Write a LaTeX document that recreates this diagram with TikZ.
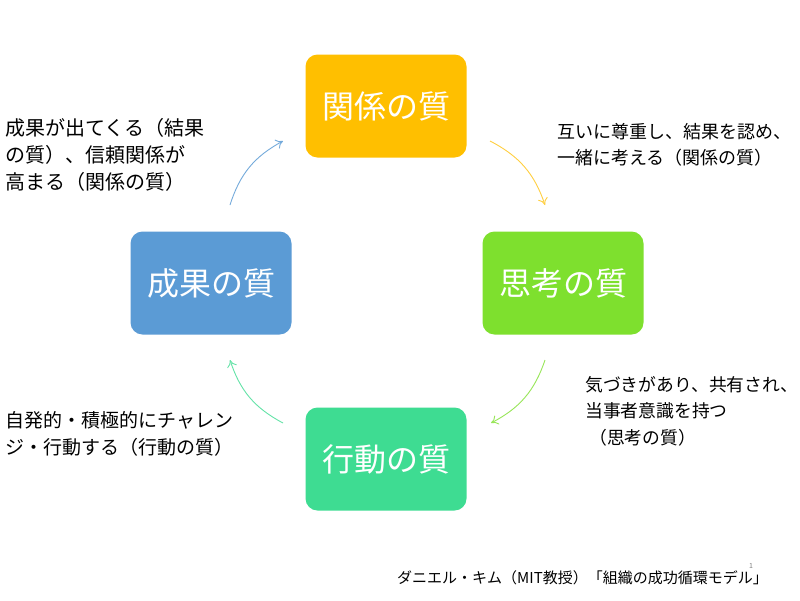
\documentclass[tikz,border=0pt]{standalone}
\usepackage{fontspec}
\setmainfont{Noto Sans CJK JP}
\usetikzlibrary{arrows.meta}
\definecolor{kankeicol}{HTML}{FFBF00}
\definecolor{shikoucol}{HTML}{7EE02E}
\definecolor{koudoucol}{HTML}{3EDC92}
\definecolor{seikacol}{HTML}{5B9BD5}
\begin{document}
\begin{tikzpicture}[x=1pt, y=-1pt,
    quality/.style={rounded corners=12pt, minimum width=161pt, minimum height=103pt,
      text=white, font=\fontsize{32}{38}\selectfont},
    cycle/.style={-{To[length=7pt,width=10pt]}, line width=0.9pt, bend left=22},
    note/.style={align=left, anchor=north west, inner sep=0pt,
      font=\fontsize{20}{27}\selectfont}]
        \useasboundingbox[fill=white] (0, 0) rectangle (800, 600);

        % the four qualities
        \node[quality, fill=kankeicol] (kankei) at (386, 106) {関係の質};
        \node[quality, fill=shikoucol] (shikou) at (563, 283) {思考の質};
        \node[quality, fill=koudoucol] (koudou) at (386, 459) {行動の質};
        \node[quality, fill=seikacol] (seika) at (211, 283) {成果の質};

        % arrow ends
        \coordinate (seikaout) at (230, 205);
        \coordinate (kankeiin) at (283, 141);
        \coordinate (kankeiout) at (490, 141);
        \coordinate (shikouin) at (545, 205);
        \coordinate (shikouout) at (545, 360);
        \coordinate (koudouin) at (491, 423);
        \coordinate (koudouout) at (283, 423);
        \coordinate (seikain) at (230, 360);

        \draw[cycle, seikacol!85] (seikaout) to (kankeiin);
        \draw[cycle, kankeicol!75] (kankeiout) to (shikouin);
        \draw[cycle, shikoucol!80] (shikouout) to (koudouin);
        \draw[cycle, koudoucol!80] (koudouout) to (seikain);

        % explanations
        \node[note] (seikanote) at (5, 118) {成果が出てくる（結果\\の質）、信頼関係が\\高まる（関係の質）};
        \node[note, font=\fontsize{18}{26.5}\selectfont] (kankeinote) at (557, 123)
          {互いに尊重し、結果を認め、\\一緒に考える（関係の質）};
        \node[note, font=\fontsize{17.8}{26.5}\selectfont] (shikounote) at (585, 376)
          {気づきがあり、共有され、\\当事者意識を持つ\\\hspace{4pt}（思考の質）};
        \node[note, font=\fontsize{19}{27}\selectfont] (koudounote) at (5, 411)
          {自発的・積極的にチャレン\\ジ・行動する（行動の質）};

        \node[anchor=west, inner sep=0pt, font=\fontsize{15}{18}\selectfont] (source) at (397, 578)
          {ダニエル・キム（MIT教授）「組織の成功循環モデル」};
        \node[inner sep=0pt, text=gray, font=\fontsize{7}{8}\selectfont] (pagenum) at (751, 566) {1};
      \end{tikzpicture}
\end{document}
